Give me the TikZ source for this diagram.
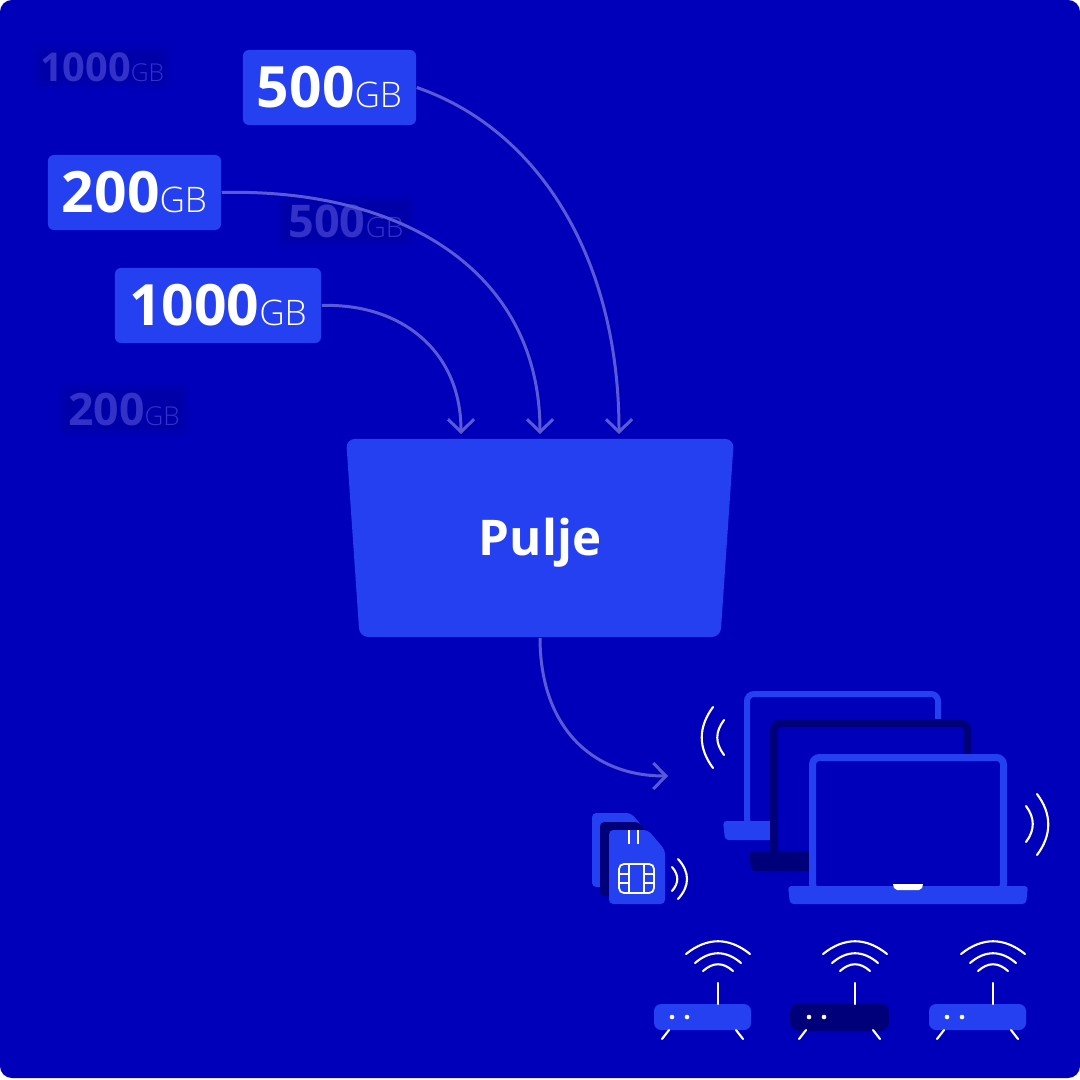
\documentclass[tikz,border=0pt]{standalone}
\usepackage{fontspec}
\setmainfont{Open Sans Bold}
\newfontfamily\lightfont{Open Sans Light}
\usetikzlibrary{arrows.meta, shapes.geometric}
\definecolor{bgblue}{HTML}{0000BB}
\definecolor{boxblue}{HTML}{2540F0}
\definecolor{navy}{HTML}{00007A}
\definecolor{linkblue}{HTML}{5A5AD6}
\definecolor{ghostdark}{HTML}{00009A}
\definecolor{ghosttext}{HTML}{3232C8}

\newcommand{\gblabel}[3]{{\fontsize{#1pt}{#1pt}\selectfont #3}{\lightfont\fontsize{#2pt}{#2pt}\selectfont GB}}

\begin{document}
\begin{tikzpicture}[x=0.01cm, y=-0.01cm, >={Straight Barb[length=3.6pt,width=7.4pt]},
  gbbox/.style={
  % The shape:
  rectangle, rounded corners=1.7pt,
  % The size:
  minimum height=0.75cm, inner sep=0pt,
  fill=boxblue, text=white},
  poolbox/.style={
  trapezium, shape border rotate=180, trapezium stretches=true,
  trapezium left angle=85.4, trapezium right angle=85.4,
  minimum width=3.88cm, minimum height=1.98cm, inner sep=0pt,
  rounded corners=2.5pt, fill=boxblue, text=white,
  text height=13.2pt, text depth=3pt,
  font=\fontsize{14pt}{14pt}\selectfont},
  link/.style={linkblue, line width=0.85pt, ->},
  wave/.style={white, line width=0.6pt, line cap=round},
  ghostlabel/.style={inner sep=0pt, text=ghosttext}]

  \useasboundingbox (0,0) rectangle (1080,1080);
  \fill [white] (0,0) rectangle (1080,1080);
  \fill [bgblue, rounded corners=3.4pt] (0,0) rectangle (1080,1078);

  % faded labels in the back
  \foreach \gx/\gy/\gw/\gh/\gn/\gs/\gt/\gname in {
    102/67/140/45/1000/11.3/7/ghosta, 346/221/141/55/500/12.8/8/ghostb, 124/410/132/55/200/12.7/7.4/ghostc}{
    \foreach \gi in {0,2,...,10}
      \fill [ghostdark, opacity=0.1, rounded corners=2pt]
        ({\gx-\gw/2+\gi},{\gy-\gh/2+\gi}) rectangle ({\gx+\gw/2-\gi},{\gy+\gh/2-\gi});
    \node [ghostlabel] (\gname) at (\gx,\gy) {\gblabel{\gs}{\gt}{\gn}};
  }

  \node [gbbox, minimum width=1.73cm] (gbfive) at (329.5,87.5) {\gblabel{16.2}{10}{500}};
  \node [gbbox, minimum width=1.73cm] (gbtwo) at (134.5,192.5) {\gblabel{16.2}{10}{200}};
  \node [gbbox, minimum width=2.06cm] (gbthousand) at (218,305.5) {\gblabel{16.2}{10}{1000}};
  \node [poolbox] (pool) at (540,538) {Pulje};

  \coordinate (inone) at (461,434);
  \coordinate (intwo) at (540,434);
  \coordinate (inthree) at (619,434);
  \coordinate (devices) at (668,776);

  \draw [link] (gbfive.east) .. controls (540,130) and (619,260) .. (inthree);
  \draw [link] (gbtwo.east) .. controls (400,188) and (540,270) .. (intwo);
  \draw [link] (gbthousand.east) .. controls (400,303) and (461,350) .. (inone);
  \draw [link] (pool.south) .. controls (540,725) and (590,776) .. (devices);

  % laptops, back to front
  \foreach \lx/\ly/\lw/\lb/\lc/\lbase/\lh in {
    744/691/197/6/boxblue/821/19, 770/719/201/8/navy/851/20, 809/754/198/7/boxblue/886/18}{
    \draw [\lc, fill=bgblue, line width=\lb*0.2845pt, rounded corners=2pt]
      ({\lx+\lb/2},\lbase+5) -- ({\lx+\lb/2},{\ly+\lb/2}) -- ({\lx+\lw-\lb/2},{\ly+\lb/2}) -- ({\lx+\lw-\lb/2},\lbase+5) -- cycle;
    \fill [\lc, rounded corners=1pt]
      ({\lx-21},\lbase) -- ({\lx+\lw+21},\lbase) -- ({\lx+\lw+19},{\lbase+\lh}) -- ({\lx-19},{\lbase+\lh}) -- cycle;
  }
  \fill [white] (893,884) -- (923,884) -- (922,888) -- (919,890) -- (897,890) -- (894,888) -- cycle;

  \draw [wave] (713,707) .. controls (698,727) and (698,748) .. (713,768);
  \draw [wave] (724,720) .. controls (715,732) and (715,743) .. (724,755);
  \draw [wave] (1037,794) .. controls (1052,814) and (1052,835) .. (1037,855);
  \draw [wave] (1026,806) .. controls (1035,818) and (1035,830) .. (1026,842);

  % sim cards
  \foreach \sx/\sy/\sc in {592/813/boxblue, 600/822/navy, 609/830/boxblue}{
    \fill [\sc, rounded corners=1.2pt] (\sx,\sy) -- ({\sx+39},\sy) -- ({\sx+56},{\sy+20}) -- ({\sx+56},{\sy+74}) -- (\sx,{\sy+74}) -- cycle;
  }
  \draw [white, line width=0.5pt] (629,830) -- (629,844) (638,830) -- (638,844);
  \draw [white, line width=0.5pt, rounded corners=1.4pt] (619,864) rectangle (654,893);
  \draw [white, line width=0.5pt] (629,864) -- (629,893) (644,864) -- (644,893)
    (619,874) -- (629,874) (619,883) -- (629,883) (644,874) -- (654,874) (644,883) -- (654,883);
  \draw [wave] (678,859) .. controls (690,872) and (690,886) .. (678,899);
  \draw [wave] (672,867) .. controls (679,875) and (679,883) .. (672,891);

  % routers
  \foreach \ax/\rc/\re in {718/boxblue/0, 855/navy/1, 993/boxblue/0}{
    \fill [\rc, rounded corners={2pt+\re*0.5pt}] ({\ax-64-\re},{1004-\re}) rectangle ({\ax+33+\re},{1030+\re});
    \fill [white] ({\ax-46},1017) circle (2.3) ({\ax-31},1017) circle (2.3);
    \draw [wave] (\ax,983) -- (\ax,1004);
    \draw [wave] ({\ax-32},954) .. controls ({\ax-11},937) and ({\ax+11},937) .. ({\ax+32},954);
    \draw [wave] ({\ax-23},963) .. controls ({\ax-8},950) and ({\ax+8},950) .. ({\ax+23},963);
    \draw [wave] ({\ax-15},971) .. controls ({\ax-5},962) and ({\ax+5},962) .. ({\ax+15},971);
    \draw [wave] ({\ax-49},1030) -- ({\ax-56},1039);
    \draw [wave] ({\ax+18},1030) -- ({\ax+25},1039);
  }
\end{tikzpicture}
\end{document}
